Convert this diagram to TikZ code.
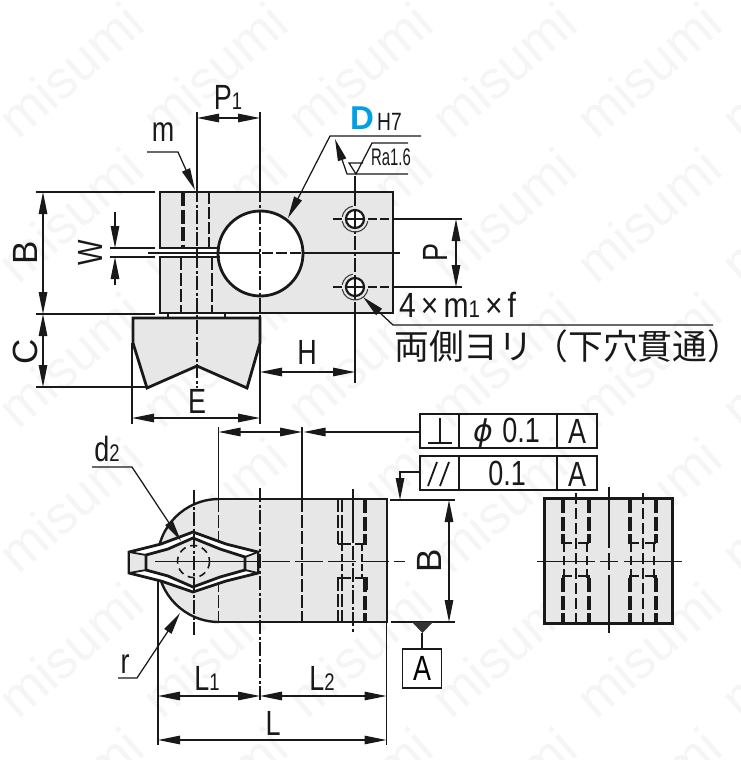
\documentclass[tikz,border=0pt]{standalone}
\usepackage{fontspec}
\usepackage{graphicx}
\setmainfont{Liberation Sans}
\newfontfamily\jpfont{Noto Sans CJK JP}
\usetikzlibrary{arrows.meta}
\definecolor{blockgray}{HTML}{E7E7E7}
\definecolor{markgray}{HTML}{F5F5F5}
\definecolor{dblue}{HTML}{00A0E4}
\newcommand{\fs}[1]{\fontsize{#1}{#1}\selectfont}
\newcommand{\nar}[1]{\scalebox{.77}[1]{#1}}
\newcommand{\subd}[1]{{\fs{24}#1}}
\tikzset{
  thin line/.style={line width=1.25pt,draw=black!90},
  thick line/.style={line width=2.8pt,draw=black!90,line join=miter},
  mid line/.style={line width=1.8pt,draw=black!90},
  chain/.style={line width=1.3pt,draw=black!90,dash pattern=on 14pt off 2.5pt on 3pt off 2.5pt},
  hid/.style={line width=1.3pt,draw=black!90,dash pattern=on 13pt off 3pt},
  hidthick/.style={line width=3.2pt,draw=black!90,dash pattern=on 14pt off 3.5pt},
  hidmid/.style={line width=2.2pt,draw=black!90,dash pattern=on 12pt off 3pt},
  dim/.style={line width=1.25pt,draw=black!90,{Triangle[length=22pt,width=8.5pt]}-{Triangle[length=22pt,width=8.5pt]}},
  arrowend/.style={line width=1.25pt,draw=black!90,-{Triangle[length=22pt,width=8.5pt]}},
  lab/.style={font=\fs{35},inner sep=0pt,text=black!90},
  framebox/.style={line width=1.6pt,draw=black!90},
}
\begin{document}
\begin{tikzpicture}[x=1pt,y=-1pt]
\useasboundingbox (0,0) rectangle (740,760);
% watermark
\foreach \wx in {70,214,359,503,648,793}
  \foreach \wy in {70,215,360,505,650,795}
    \node[font=\fs{54},text=markgray,rotate=41,inner sep=0pt] (mark\wx x\wy) at (\wx,\wy) {misumi};

% ---------- top view ----------
\fill[blockgray] (160,192) rectangle (393,313);
\fill[white] (158,248.5) rectangle (225,257);
\fill[white] (260.5,253.5) circle (42.5);
% hidden lines
\draw[hidthick] (183,192) -- (183,248);
\draw[hidmid] (209,192) -- (209,248);
\draw[hid] (181,257) -- (181,313);
\draw[hid] (212,257) -- (212,313);
% outline
\draw[thick line] (219.5,248) -- (160,248) -- (160,192) -- (393,192) -- (393,313) -- (160,313) -- (160,257) -- (220,257);
\draw[line width=2.8pt,draw=black!90] (260.5,253.5) circle (42.5);
% centre lines
\draw[thin line] (148,253) -- (260,253);
\draw[line width=1.3pt,draw=black!90,dash pattern=on 11pt off 3pt] (262,253) -- (303,253);
\draw[thin line] (303,253) -- (400,253);
\draw[thin line] (197,112) -- (197,188);
\draw[chain] (197,188) -- (197,318);
\draw[thin line] (260,112) -- (260,188);
\draw[chain] (260,188) -- (260,318);
\draw[thin line] (355,176) -- (355,192);
\draw[chain] (355,192) -- (355,316);
\draw[thin line] (355,316) -- (355,383);
% holes
\foreach \hy in {219,287}{
  \draw[line width=2.2pt,draw=black!90,fill=white] (355,\hy) circle (9);
  \draw[thin line] (355,\hy-9) -- (355,\hy+9) (346,\hy) -- (364,\hy);
  \draw[line width=1.1pt,draw=black!75] (355,\hy)+(-100:13) arc (-100:-170:13);
  \draw[line width=1.1pt,draw=black!75] (355,\hy)+(-190:13) arc (-190:-350:13);
  \draw[thin line,dash pattern=on 9pt off 3pt] (333,\hy) -- (343,\hy) (368,\hy) -- (393,\hy);
  \draw[thin line] (393,\hy) -- (462,\hy);
}
% under block
\fill[blockgray] (133,318) -- (260,318) -- (260,343) -- (247,388) -- (197,366) -- (147,388) -- (133,343) -- cycle;
\draw[thin line] (168,313) -- (168,318) (225,313) -- (225,318);
\draw[thick line] (133,343) -- (133,318) -- (260,318) -- (260,343) -- (247,388) -- (197,366) -- (147,388) -- cycle;
\draw[chain] (197,320) -- (197,388);
\draw[thin line] (260,318) -- (260,424);
\draw[thin line] (132,343) -- (132,424);

% top-view dimensions
\draw[thin line] (36,192) -- (155,192) (36,314) -- (155,314) (36,387) -- (147,387);
\draw[dim] (43,192) -- (43,314);
\draw[dim] (43,314) -- (43,387);
\node[lab,rotate=90] (labB) at (25,253) {B};
\node[lab,rotate=90] (labC) at (25,352) {C};
\draw[thin line] (110,248) -- (155,248) (110,257) -- (155,257);
\draw[arrowend] (115,212) -- (115,248);
\draw[arrowend] (115,285) -- (115,257);
\node[lab,rotate=90] (labW) at (90,253) {\nar{W}};
\draw[dim] (197,118) -- (260,118);
\node[lab] (labP1) at (228,97) {\nar{P\subd{1}}};
\draw[arrowend] (147,152) -- (178,152) -- (195,190);
\node[lab] (labm) at (163,132) {\nar{m}};
\draw[dim] (132,418) -- (260,418);
\node[lab] (labE) at (197,401) {\nar{E}};
\draw[dim] (260,372) -- (355,372);
\node[lab] (labH) at (307,352) {\nar{H}};
\draw[dim] (456,219) -- (456,287);
\node[lab,rotate=90] (labP) at (435,253) {\nar{P}};
% D callout
\draw[arrowend] (421,136) -- (330,136) -- (288,218);
\draw[arrowend] (408,174) -- (347,174) -- (335,139);
\draw[thin line] (408,143) -- (372,143) -- (356,174) -- (349,163) -- (363,163);
\node[font=\bfseries\fs{33},text=dblue,inner sep=0pt] (labD) at (362,118.5) {D};
\node[font=\fs{25},inner sep=0pt,text=black!90] (labH7) at (389.5,121.5) {\nar{H7}};
\node[font=\fs{24},inner sep=0pt,text=black!90] (labRa) at (391,157.5) {\scalebox{.62}[1]{Ra1.6}};
% hole callout
\draw[arrowend] (713,325) -- (393,325) -- (363,297);
\node[font=\fs{35},inner sep=0pt,text=black!90,anchor=base west] (labHole) at (399,317) {\scalebox{.86}[1]{4\,×\,m\subd{1}\,×\,f}};
\node[font=\jpfont\fs{34.8},inner sep=0pt,text=black!90,anchor=base west] (labJp) at (394,359) {両側ヨリ（下穴貫通）};

% ---------- front view ----------
\fill[blockgray] (387,499) -- (219,499) arc (270:90:61.5) -- (387,622) -- cycle;
\draw[hid] (218.5,499) -- (218.5,622);
\draw[hid] (302,499) -- (302,622);
\draw[thin line] (218.5,427) -- (218.5,499) (302,427) -- (302,499);
% hidden bore
\foreach \hx in {338,342}{\draw[hid,line width=1.5pt] (\hx,499) -- (\hx,544);\draw[hid,line width=1.5pt] (\hx,578) -- (\hx,622);}
\draw[hidthick] (365,499) -- (365,544);
\draw[hidthick] (365,578) -- (365,622);
\draw[hid,dash pattern=on 7pt off 3pt] (342,544) -- (342,578) (362,544) -- (362,578);
\draw[mid line] (338,544) -- (351,544) (355,544) -- (367,544);
\draw[mid line] (338,590) -- (338,578) -- (351,578) (355,578) -- (367,578) -- (367,590);
\draw[thin line] (353,489) -- (353,543);
\draw[chain] (353,546) -- (353,633);
% outline
\draw[thick line] (219,499) -- (387,499) -- (387,622) -- (219,622);
\draw[line width=2.4pt,draw=black!90] (219,499) arc (270:90:61.5);
% V piece
\fill[blockgray] (129,552) -- (161,544) -- (193,532) -- (226,544) -- (258,552) -- (258,573) -- (226,581) -- (193,592) -- (161,581) -- (129,573) -- cycle;
\draw[thick line,fill=white] (129,552) -- (161,544) -- (193,532) -- (226,544) -- (258,552) -- (258,573) -- (226,581) -- (193,592) -- (161,581) -- (129,573) -- cycle;
\fill[blockgray] (129,552) -- (146,555) -- (146,570) -- (129,573) -- cycle;
\fill[blockgray] (258,552) -- (245,557) -- (245,570) -- (258,573) -- cycle;
\draw[thick line,fill=blockgray] (146,555) -- (168,549) -- (193,538) -- (220,549) -- (245,557) -- (245,570) -- (220,577) -- (193,587) -- (168,576) -- (146,570) -- cycle;
\draw[mid line] (129,552) -- (146,555) (129,573) -- (146,570) (258,552) -- (245,557) (258,573) -- (245,570);
\draw[thick line] (129,552) -- (129,573) (258,552) -- (258,573);
\draw[line width=1.6pt,draw=black!90,dash pattern=on 7pt off 5pt] (193.5,561.5) circle (16);
% front centre lines
\draw[thin line] (155,561.5) -- (258,561.5);
\draw[line width=1.3pt,draw=black!90,dash pattern=on 28pt off 5pt] (262,561.5) -- (405,561.5);
\draw[chain] (194,490) -- (194,635);
\draw[chain] (260,488) -- (260,702);
\draw[thin line] (158,580) -- (158,745) (386.5,622) -- (386.5,745);

% front-view dimensions
\draw[dim] (218.5,432) -- (302,432);
\draw[arrowend] (420,432) -- (303.5,432);
\draw[dim] (158,696) -- (260,696);
\draw[dim] (260,696) -- (386.5,696);
\draw[dim] (158,740) -- (386.5,740);
\node[lab] (labL1) at (207,678) {\nar{L\subd{1}}};
\node[lab] (labL2) at (322,678) {\nar{L\subd{2}}};
\node[lab] (labL) at (273,723) {\nar{L}};
\node[lab] (labd2) at (107,449) {\nar{d\subd{2}}};
\draw[arrowend] (92,467) -- (132,467) -- (181,541);
\node[lab] (labr) at (125,664) {\nar{r}};
\draw[arrowend] (118,678) -- (137,678) -- (180,613);
\draw[thin line] (390,500) -- (455,500) (391,622) -- (455,622);
\draw[dim] (449,500) -- (449,622);
\node[lab,rotate=90] (labB2) at (429,561) {B};

% feature control frames
\foreach \fy/\fz in {414/448,456/490}{
  \draw[framebox] (420,\fy) rectangle (597,\fz) (459,\fy) -- (459,\fz) (557,\fy) -- (557,\fz);
}
\draw[mid line] (428,443) -- (452,443) (440,418) -- (440,443);
\node[font=\itshape\fs{30},inner sep=0pt,text=black!90] (labPhi) at (483,433) {\fontspec{DejaVu Sans}ϕ};
\node[lab] (lab01a) at (521,430) {\nar{0.1}};
\node[lab] (labAa) at (577,431) {\nar{A}};
\draw[mid line] (428,486) -- (437,462) (440,486) -- (449,462);
\node[lab] (lab01b) at (507,473) {\nar{0.1}};
\node[lab] (labAb) at (577,474) {\nar{A}};
\draw[arrowend] (420,472) -- (400,472) -- (400,500);
% datum
\fill[black!80] (412,622) -- (433,622) -- (422.5,633) -- cycle;
\draw[thin line] (422,633) -- (422,649);
\node[draw=black!90,line width=1.4pt,minimum width=39pt,minimum height=39pt,inner sep=0pt,font=\fs{35}] (labAc) at (422,668.5) {\nar{A}};

% ---------- side view ----------
\fill[blockgray] (544,498) rectangle (672,623);
\foreach \gx in {0,67}{
  \draw[hidthick] (563+\gx,499) -- (563+\gx,543);
  \draw[hidthick] (589+\gx,499) -- (589+\gx,543);
  \draw[hidthick] (563+\gx,578) -- (563+\gx,622);
  \draw[hidthick] (589+\gx,578) -- (589+\gx,622);
  \draw[hid,dash pattern=on 11pt off 4pt] (576+\gx,493) -- (576+\gx,627);
  \draw[hid,dash pattern=on 9pt off 4pt] (564+\gx,543) -- (564+\gx,578) (587+\gx,543) -- (587+\gx,578);
  \draw[mid line] (561+\gx,543) -- (572+\gx,543) (578+\gx,543) -- (589+\gx,543);
  \draw[mid line] (563+\gx,585) -- (563+\gx,576) -- (572+\gx,576) (578+\gx,576) -- (589+\gx,576) -- (589+\gx,585);
}
\draw[line width=3pt,draw=black!90] (544,498) rectangle (672,623);
\draw[thin line] (609,487) -- (609,548) (609,553) -- (609,570) (609,575) -- (609,633);
\draw[thin line] (537,561.5) -- (595,561.5) (600,561.5) -- (618,561.5) (624,561.5) -- (682,561.5);
\end{tikzpicture}
\end{document}
